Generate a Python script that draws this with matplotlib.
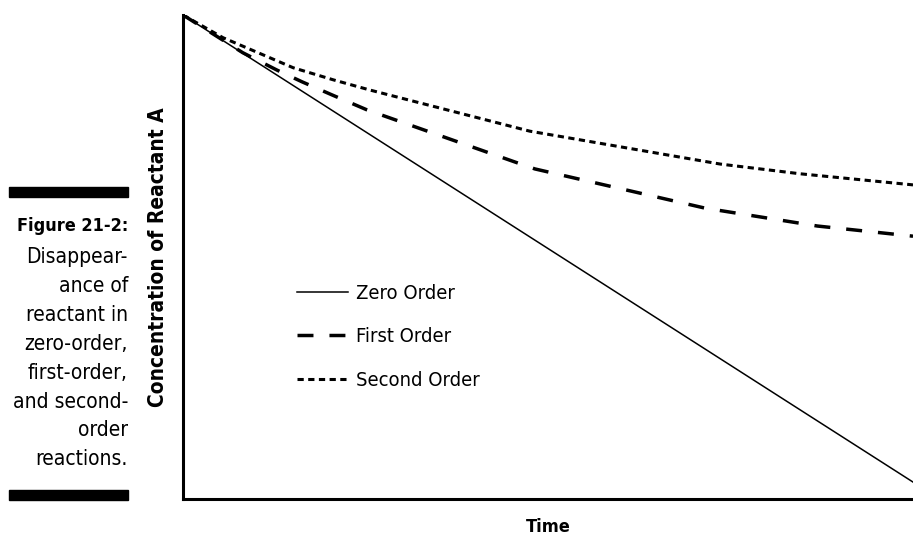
import matplotlib
matplotlib.use('Agg')
import matplotlib.pyplot as plt
from matplotlib import font_manager
from matplotlib.patches import Rectangle

# look for a condensed sans face, else Roboto
narrow = None
for f in font_manager.fontManager.ttflist:
    fn = f.fname.lower()
    if 'narrow' in fn or 'condensed' in fn:
        if 'bold' not in fn and 'oblique' not in fn and 'italic' not in fn:
            narrow = f
            break
if narrow is not None:
    plt.rcParams['font.family'] = [narrow.name, 'DejaVu Sans']
    plt.rcParams['font.stretch'] = narrow.stretch
    size_scale = 1.0
else:
    plt.rcParams['font.family'] = ['Roboto', 'DejaVu Sans']
    size_scale = 0.88
plt.rcParams['lines.scale_dashes'] = False

# values (time and concentration as fractions)
zero_t = [0.0, 1.0]
zero_c = [1.0, 0.035]

first_t = [0.0, 0.082, 0.129, 0.163, 0.204, 0.252, 0.459, 0.482, 0.715, 0.869, 1.0]
first_c = [1.0, 0.922, 0.886, 0.862, 0.835, 0.804, 0.694, 0.682, 0.601, 0.564, 0.543]

second_t = [0.0, 0.055, 0.151, 0.206, 0.256, 0.475, 0.736, 0.845, 1.0]
second_c = [1.0, 0.953, 0.891, 0.866, 0.845, 0.760, 0.692, 0.672, 0.649]

labels = ['Zero Order', 'First Order', 'Second Order']

caption = ['Disappear-', 'ance of', 'reactant in', 'zero-order,',
           'first-order,', 'and second-', 'order', 'reactions.']

W, H = 913, 537
fig = plt.figure(figsize=(W / 100, H / 100), dpi=100)
ax = fig.add_axes([183 / W, (H - 499) / H, 1 - 183 / W, 484 / H])

ax.plot(zero_t, zero_c, color='black', lw=1.1, label=labels[0])
ax.plot(first_t, first_c, color='black', lw=2.5, dashes=(11.5, 11.5), label=labels[1])
ax.plot(second_t, second_c, color='black', lw=2.2, dashes=(4.5, 3.2), label=labels[2])

ax.set_xlim(0, 1)
ax.set_ylim(0, 1)
ax.set_xticks([])
ax.set_yticks([])
for s in ['top', 'right']:
    ax.spines[s].set_visible(False)
for s in ['left', 'bottom']:
    ax.spines[s].set_linewidth(2.2)

ax.set_xlabel('Time', fontsize=13 * size_scale, fontweight='bold', labelpad=14)
ax.set_ylabel('Concentration of Reactant A', fontsize=15 * size_scale,
              fontweight='bold', labelpad=11)

leg = ax.legend(loc='center left', bbox_to_anchor=(297 / W, 1 - 337 / H),
                bbox_transform=fig.transFigure, frameon=False,
                fontsize=14.5 * size_scale,
                handlelength=2.55, handletextpad=0.4, labelspacing=1.22,
                borderpad=0, borderaxespad=0)

# side caption
fig.text(128 / W, 1 - 226 / H, 'Figure 21-2:', ha='right', va='center',
         fontsize=13 * size_scale, fontweight='bold')
for i, line in enumerate(caption):
    fig.text(128 / W, 1 - (257 + 28.9 * i) / H, line, ha='right', va='center',
             fontsize=15 * size_scale)
fig.add_artist(Rectangle((9 / W, 1 - 197 / H), 119 / W, 10 / H,
                         transform=fig.transFigure, color='black'))
fig.add_artist(Rectangle((9 / W, 1 - 500 / H), 119 / W, 10 / H,
                         transform=fig.transFigure, color='black'))

fig.savefig('out.png', dpi=100)
